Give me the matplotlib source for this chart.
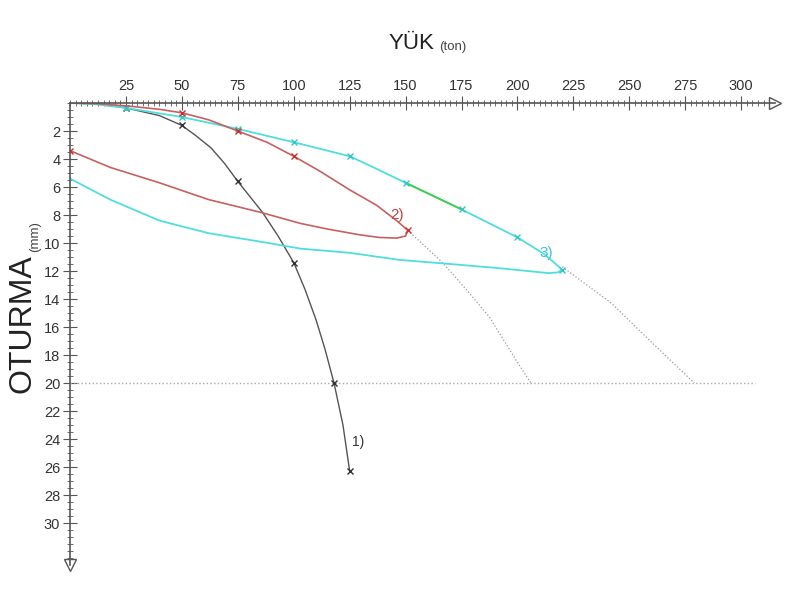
import matplotlib.pyplot as plt
from matplotlib.ticker import MultipleLocator

plt.rcParams['font.family'] = ['Liberation Sans', 'DejaVu Sans']

# curve 1 (black) - loading only
load1 = [0, 12, 25, 40, 50, 56, 63, 69, 75, 80, 86, 93, 100, 105, 110, 114, 118, 122, 125]
set1 = [0, 0.05, 0.35, 0.9, 1.6, 2.3, 3.2, 4.3, 5.6, 6.6, 7.8, 9.5, 11.4, 13.3, 15.5, 17.6, 20, 23, 26.3]
mk1_load = [25, 50, 75, 100, 118, 125]
mk1_set = [0.35, 1.6, 5.6, 11.4, 20, 26.3]

# curve 2 (red) - loading and unloading
load2 = [0, 12, 25, 40, 50, 62, 75, 88, 100, 112, 125, 137, 146, 151,
         150, 146, 138, 129, 115, 103, 85, 62, 40, 18, 0]
set2 = [0, 0.05, 0.2, 0.45, 0.7, 1.2, 2.0, 2.8, 3.8, 4.9, 6.2, 7.3, 8.4, 9.1,
        9.5, 9.65, 9.6, 9.4, 9.0, 8.6, 7.8, 6.9, 5.7, 4.6, 3.4]
mk2_load = [50, 75, 100, 151, 0]
mk2_set = [0.7, 2.0, 3.8, 9.1, 3.4]

# curve 3 (cyan) - loading and unloading
load3 = [0, 12, 25, 50, 75, 100, 125, 137, 150, 175, 200, 212, 220,
         218, 214, 192, 170, 147, 125, 103, 85, 62, 40, 18, 0]
set3 = [0, 0.1, 0.35, 1.0, 1.85, 2.8, 3.8, 4.7, 5.7, 7.6, 9.6, 10.8, 11.9,
        12.1, 12.15, 11.8, 11.5, 11.2, 10.7, 10.4, 9.9, 9.3, 8.4, 6.9, 5.4]
mk3_load = [25, 50, 75, 100, 125, 150, 175, 200, 220]
mk3_set = [0.35, 1.0, 1.85, 2.8, 3.8, 5.7, 7.6, 9.6, 11.9]

# extrapolations (dotted)
ext2_load = [151, 166.5, 177, 187.5, 199.5, 206]
ext2_set = [9.1, 11.4, 13.3, 15.3, 18.4, 20]
ext3_load = [220, 242, 260, 279]
ext3_set = [11.7, 14.3, 17.1, 20]

xticks = [25, 50, 75, 100, 125, 150, 175, 200, 225, 250, 275, 300]
yticks = [2, 4, 6, 8, 10, 12, 14, 16, 18, 20, 22, 24, 26, 28, 30]

grey = '#555555'
red = '#c86060'
cyan = '#4fdede'

fig = plt.figure(figsize=(8, 6), dpi=100)
ax = fig.add_axes([0.0875, 0.0583, 0.881, 0.77])
ax.set_xlim(0, 315)
ax.set_ylim(33, 0)

ax.spines['right'].set_visible(False)
ax.spines['bottom'].set_visible(False)
ax.spines['top'].set_color(grey)
ax.spines['left'].set_color(grey)
ax.spines['top'].set_linewidth(1.2)
ax.spines['left'].set_linewidth(1.2)

ax.xaxis.tick_top()
ax.set_xticks(xticks)
ax.set_yticks(yticks)
ax.xaxis.set_minor_locator(MultipleLocator(2.5))
ax.yaxis.set_minor_locator(MultipleLocator(0.5))
ax.tick_params(which='major', direction='inout', length=10, color=grey,
               labelsize=10.5, labelcolor='#333333', pad=2)
ax.tick_params(which='minor', direction='inout', length=4, color=grey)

# axis arrows
ax.plot(315, 0, marker='>', ms=9, mfc='white', mec=grey, clip_on=False)
ax.plot(0, 33, marker='v', ms=9, mfc='white', mec=grey, clip_on=False)

# reference line at 20 mm
ax.plot([0, 306], [20, 20], ls=':', color='#aaaaaa', lw=1)
ax.plot(ext2_load, ext2_set, ls=':', color='#999999', lw=0.9)
ax.plot(ext3_load, ext3_set, ls=':', color='#999999', lw=0.9)

ax.plot(load1, set1, color=grey, lw=1)
ax.plot(mk1_load, mk1_set, ls='none', marker='x', ms=4, color='#333333')
ax.plot(load3, set3, color=cyan, lw=1.3)
ax.plot([150, 175], [5.7, 7.6], color='#44cc44', lw=1.3)
ax.plot(mk3_load, mk3_set, ls='none', marker='x', ms=4, color='#30c8c8')
ax.plot(load2, set2, color=red, lw=1.2)
ax.plot(mk2_load, mk2_set, ls='none', marker='x', ms=4, color='#d03030')

ax.text(126, 24.5, '1)', fontsize=10, color='#333333')
ax.text(143, 8.3, '2)', fontsize=11, color='#d04040')
ax.text(210, 11.0, '3)', fontsize=11, color='#40c0d8')

fig.text(0.514, 0.928, 'YÜK', fontsize=16, color='#222222', ha='center', va='center')
fig.text(0.549, 0.922, '(ton)', fontsize=9.5, color='#444444', ha='left', va='center')
fig.text(0.028, 0.46, 'OTURMA', fontsize=23, color='#222222', rotation=90,
         ha='center', va='center')
fig.text(0.044, 0.605, '(mm)', fontsize=9.5, color='#444444', rotation=90,
         ha='center', va='center')

plt.savefig('out.png', dpi=100)
